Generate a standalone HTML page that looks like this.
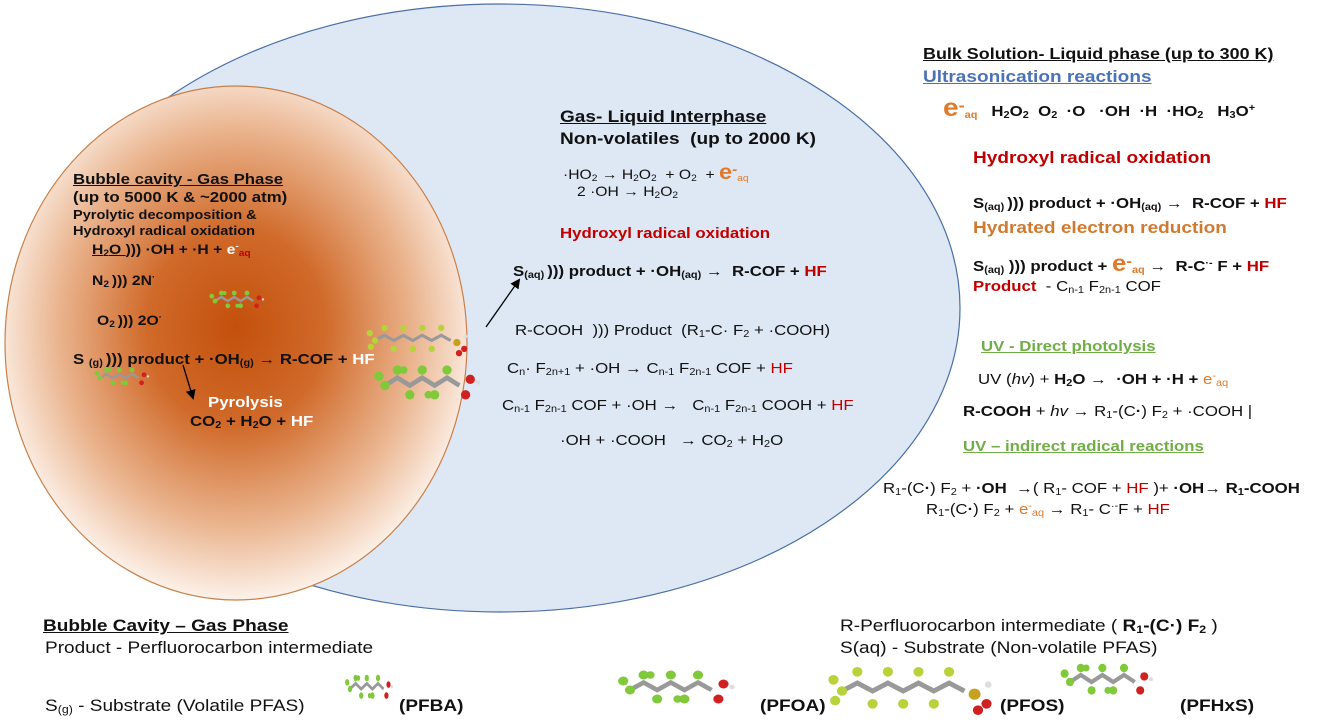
<!DOCTYPE html>
<html><head><meta charset="utf-8">
<style>
html,body{margin:0;padding:0;background:#fff;}
#c{position:relative;width:1321px;height:722px;overflow:hidden;font-family:"Liberation Sans",Arial,sans-serif;color:#111;}
.t{position:absolute;white-space:nowrap;line-height:1;transform:scaleX(1.12);transform-origin:0 0;}
.b{font-weight:bold;}
.u{text-decoration:underline;}
.r{color:#c00000;}
.o{color:#e07a2a;}
.w{color:#fff;}
.g{color:#70ad47;}
sub{font-size:65%;vertical-align:-2px;}
sup{font-size:65%;vertical-align:5px;}
</style></head><body><div id="c">
<svg width="1321" height="722" style="position:absolute;left:0;top:0">
<defs>
<radialGradient id="og" cx="0.5" cy="0.47" r="0.55">
<stop offset="0" stop-color="#c4500c"/>
<stop offset="0.35" stop-color="#d06a2a"/>
<stop offset="0.7" stop-color="#eab48e"/>
<stop offset="1" stop-color="#fffaf6"/>
</radialGradient>
<marker id="ah" markerWidth="10" markerHeight="10" refX="8" refY="5" orient="auto" markerUnits="userSpaceOnUse"><path d="M0,0 L10,5 L0,10 z" fill="#000"/></marker>
<g id="mol">
<polyline points="0,10 8,5 16,10 24,5 32,10 40,5 48,10" fill="none" stroke="#999" stroke-width="3"/>
<g fill="#7fc93a"><circle cx="0" cy="10" r="3"/><circle cx="8" cy="0" r="3"/><circle cx="16" cy="16" r="3"/><circle cx="24" cy="0" r="3"/><circle cx="32" cy="16" r="3"/><circle cx="40" cy="0" r="3"/><circle cx="-4" cy="4" r="3"/><circle cx="12" cy="0" r="2.5"/><circle cx="28" cy="16" r="2.5"/></g>
<circle cx="52" cy="16" r="3" fill="#d02020"/><circle cx="55" cy="6" r="3" fill="#d02020"/><circle cx="60" cy="8" r="1.5" fill="#ddd"/>
</g>
<g id="molL">
<polyline points="0,10 9,5 18,10 27,5 36,10 45,5 54,10 63,5 72,10" fill="none" stroke="#999" stroke-width="3"/>
<g fill="#b8d23a"><circle cx="0" cy="10" r="3"/><circle cx="9" cy="-2" r="3"/><circle cx="18" cy="18" r="3"/><circle cx="27" cy="-2" r="3"/><circle cx="36" cy="18" r="3"/><circle cx="45" cy="-2" r="3"/><circle cx="54" cy="18" r="3"/><circle cx="63" cy="-2" r="3"/><circle cx="-5" cy="3" r="3"/><circle cx="-4" cy="16" r="3"/></g>
<circle cx="78" cy="12" r="3.5" fill="#c8a020"/><circle cx="85" cy="18" r="3" fill="#d02020"/><circle cx="80" cy="22" r="3" fill="#d02020"/><circle cx="86" cy="6" r="2" fill="#ddd"/>
</g>
</defs>
<ellipse cx="500" cy="308" rx="460" ry="304" fill="#dde8f4" stroke="#4a6fa5" stroke-width="1.2"/>
<ellipse cx="236" cy="343" rx="231" ry="257" fill="url(#og)" stroke="#c8804a" stroke-width="1.2"/>
<line x1="183" y1="365" x2="193" y2="398" stroke="#000" stroke-width="1.3" marker-end="url(#ah)"/>
<line x1="486" y1="327" x2="519" y2="280" stroke="#000" stroke-width="1.3" marker-end="url(#ah)"/>
<use href="#mol" transform="translate(215,293) scale(0.8)"/>
<use href="#mol" transform="translate(100,370) scale(0.8)"/>
<use href="#molL" transform="translate(375,330) scale(1.05)"/>
<use href="#mol" transform="translate(385,370) scale(1.55)"/>
<use href="#mol" transform="translate(350,678) scale(0.7,1.1)"/>
<use href="#mol" transform="translate(630,675) scale(1.7,1.5)"/>
<use href="#molL" transform="translate(842,675) scale(1.7,1.6)"/>
<use href="#mol" transform="translate(1070,668) scale(1.35,1.4)"/>
</svg>

<!-- Bubble -->
<div class="t b u" style="left:73px;top:172px;font-size:15px">Bubble cavity - Gas Phase</div>
<div class="t b" style="left:73px;top:190px;font-size:15px">(up to 5000 K &amp; ~2000 atm)</div>
<div class="t b" style="left:73px;top:208px;font-size:13px">Pyrolytic decomposition &amp;</div>
<div class="t b" style="left:73px;top:224px;font-size:13px">Hydroxyl radical oxidation</div>
<div class="t b" style="left:92px;top:242px;font-size:14px"><u>H<sub>2</sub>O </u>))) ·OH + ·H + <span class="w">e<sup>-</sup></span><sub class="r">aq</sub></div>
<div class="t b" style="left:92px;top:273px;font-size:14px">N<sub>2 </sub>))) 2N<sup>·</sup></div>
<div class="t b" style="left:97px;top:313px;font-size:14px">O<sub>2 </sub>))) 2O<sup>·</sup></div>
<div class="t b" style="left:73px;top:352px;font-size:15px">S <sub>(g) </sub>))) product + ·OH<sub>(g)</sub> → R-COF + <span class="w">HF</span></div>
<div class="t b w" style="left:208px;top:395px;font-size:15px">Pyrolysis</div>
<div class="t b" style="left:190px;top:414px;font-size:15px">CO<sub>2</sub> + H<sub>2</sub>O + <span class="w">HF</span></div>

<!-- Interphase -->
<div class="t b u" style="left:560px;top:108px;font-size:17px">Gas- Liquid Interphase</div>
<div class="t b" style="left:560px;top:130px;font-size:17px">Non-volatiles&nbsp; (up to 2000 K)</div>
<div class="t" style="left:563px;top:162px;font-size:14px">·HO<sub>2</sub> → H<sub>2</sub>O<sub>2</sub>&nbsp; + O<sub>2</sub>&nbsp; + <span class="o b" style="font-size:21px">e<sup>-</sup></span><sub class="o">aq</sub></div>
<div class="t" style="left:577px;top:184px;font-size:14px">2 ·OH → H<sub>2</sub>O<sub>2</sub></div>
<div class="t b r" style="left:560px;top:226px;font-size:15px">Hydroxyl radical oxidation</div>
<div class="t b" style="left:513px;top:264px;font-size:15px">S<sub>(aq) </sub>))) product + ·OH<sub>(aq)</sub> →&nbsp; R-COF + <span class="r">HF</span></div>
<div class="t" style="left:515px;top:323px;font-size:15px">R-COOH&nbsp; ))) Product&nbsp; (R<sub>1</sub>-C· F<sub>2</sub> + ·COOH)</div>
<div class="t" style="left:507px;top:361px;font-size:15px">C<sub>n</sub>· F<sub>2n+1</sub> + ·OH → C<sub>n-1</sub> F<sub>2n-1</sub> COF + <span class="r">HF</span></div>
<div class="t" style="left:502px;top:398px;font-size:15px">C<sub>n-1</sub> F<sub>2n-1</sub> COF + ·OH →&nbsp;&nbsp; C<sub>n-1</sub> F<sub>2n-1</sub> COOH + <span class="r">HF</span></div>
<div class="t" style="left:560px;top:433px;font-size:15px">·OH + ·COOH&nbsp;&nbsp; → CO<sub>2</sub> + H<sub>2</sub>O</div>

<!-- Bulk -->
<div class="t b u" style="left:923px;top:47px;font-size:16px">Bulk Solution- Liquid phase (up to 300 K)</div>
<div class="t b u" style="left:923px;top:68px;font-size:17px;color:#4a72b8">Ultrasonication reactions</div>
<div class="t b" style="left:943px;top:96px;font-size:15px"><span class="o" style="font-size:25px">e<sup>-</sup></span><sub class="o">aq</sub>&nbsp;&nbsp; H<sub>2</sub>O<sub>2</sub>&nbsp; O<sub>2</sub>&nbsp; ·O&nbsp;&nbsp; ·OH&nbsp; ·H&nbsp; ·HO<sub>2</sub>&nbsp;&nbsp; H<sub>3</sub>O<sup>+</sup></div>
<div class="t b r" style="left:973px;top:149px;font-size:17px">Hydroxyl radical oxidation</div>
<div class="t b" style="left:973px;top:196px;font-size:15px">S<sub>(aq) </sub>))) product + ·OH<sub>(aq)</sub> →&nbsp; R-COF + <span class="r">HF</span></div>
<div class="t b" style="left:973px;top:219px;font-size:17px;color:#d07a30">Hydrated electron reduction</div>
<div class="t b" style="left:973px;top:252px;font-size:15px">S<sub>(aq)</sub> ))) product + <span class="o" style="font-size:23px">e<sup>-</sup></span><sub class="o">aq</sub> →&nbsp; R-C<sup>·-</sup> F + <span class="r">HF</span></div>
<div class="t" style="left:973px;top:279px;font-size:15px"><b class="r">Product</b>&nbsp; - C<sub>n-1</sub> F<sub>2n-1</sub> COF</div>
<div class="t b u g" style="left:981px;top:339px;font-size:15px">UV - Direct photolysis</div>
<div class="t" style="left:978px;top:372px;font-size:15px">UV (<i>hv</i>) + <b>H<sub>2</sub>O →&nbsp; ·OH + ·H +</b> <span class="o">e<sup>-</sup><sub>aq</sub></span></div>
<div class="t" style="left:963px;top:404px;font-size:15px"><b>R-COOH</b> + <i>hv</i> → R<sub>1</sub>-(C<b>·</b>) F<sub>2</sub> + ·COOH |</div>
<div class="t b u g" style="left:963px;top:439px;font-size:15px">UV – indirect radical reactions</div>
<div class="t" style="left:883px;top:481px;font-size:15px">R<sub>1</sub>-(C<b>·</b>) F<sub>2</sub> + <b>·OH</b>&nbsp; →( R<sub>1</sub>- COF + <span class="r">HF</span> )+ <b>·OH→ R<sub>1</sub>-COOH</b></div>
<div class="t" style="left:926px;top:502px;font-size:15px">R<sub>1</sub>-(C<b>·</b>) F<sub>2</sub> + <span class="o">e<sup>-</sup><sub>aq</sub></span> → R<sub>1</sub>- C<sup>·-</sup>F + <span class="r">HF</span></div>

<!-- Bottom legend -->
<div class="t b u" style="left:43px;top:617px;font-size:17px">Bubble Cavity – Gas Phase</div>
<div class="t" style="left:45px;top:639px;font-size:17px">Product - Perfluorocarbon intermediate</div>
<div class="t" style="left:45px;top:697px;font-size:17px">S<sub>(g)</sub> - Substrate (Volatile PFAS)</div>
<div class="t b" style="left:399px;top:697px;font-size:17px">(PFBA)</div>
<div class="t" style="left:840px;top:617px;font-size:17px">R-Perfluorocarbon intermediate ( <b>R<sub>1</sub>-(C·) F<sub>2</sub></b> )</div>
<div class="t" style="left:840px;top:639px;font-size:17px">S(aq) - Substrate (Non-volatile PFAS)</div>
<div class="t b" style="left:760px;top:697px;font-size:17px">(PFOA)</div>
<div class="t b" style="left:1000px;top:697px;font-size:17px">(PFOS)</div>
<div class="t b" style="left:1180px;top:697px;font-size:17px">(PFHxS)</div>
</div></body></html>
